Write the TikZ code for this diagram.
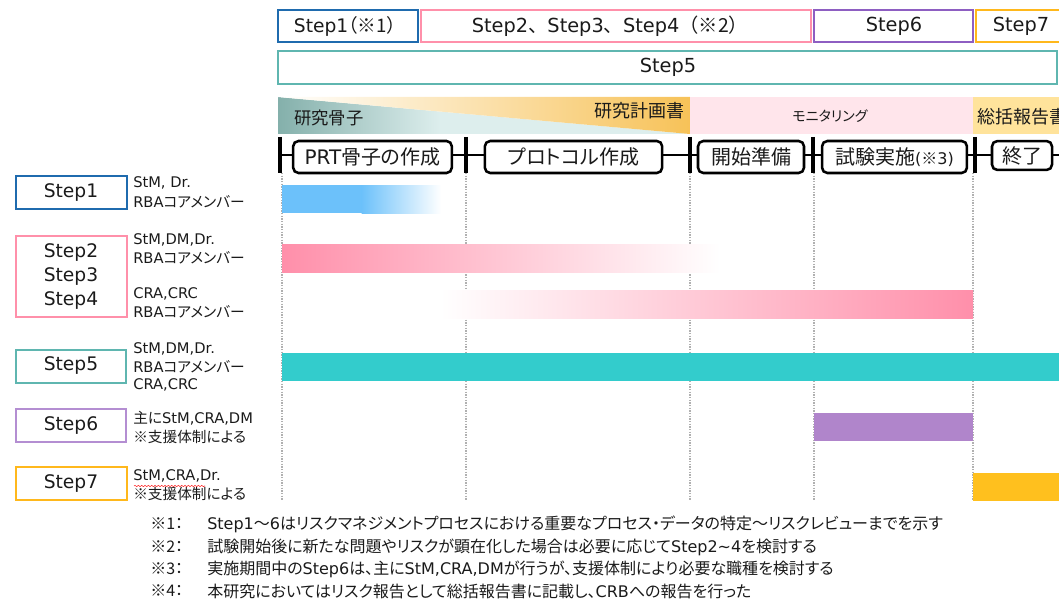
\documentclass[tikz,border=0pt]{standalone}
\usepackage{fontspec}
\setmainfont{DejaVu Sans}
\newfontfamily\jp[RawFeature=+palt]{Noto Sans CJK JP}
\newfontfamily\jpw{Noto Sans CJK JP}
\usetikzlibrary{decorations.pathmorphing}
\definecolor{cOne}{HTML}{1F6BAE}
\definecolor{cTwo}{HTML}{FF90AA}
\definecolor{cFive}{HTML}{5FB6B0}
\definecolor{cSix}{HTML}{8E5EC2}
\definecolor{cSixL}{HTML}{B48ED2}
\definecolor{cSeven}{HTML}{FFB81C}
\definecolor{bTealD}{HTML}{84B0AB}
\definecolor{bTealL}{HTML}{DDEEED}
\definecolor{bOrange}{HTML}{F7C258}
\definecolor{bPink}{HTML}{FFE5EB}
\definecolor{bOrangeL}{HTML}{FFE39B}
\definecolor{barBlue}{HTML}{6CC1FA}
\definecolor{barPink}{HTML}{FF8FAA}
\definecolor{barTeal}{HTML}{33CCCC}
\definecolor{barPurple}{HTML}{B085CB}
\definecolor{barOrange}{HTML}{FFC01E}
\definecolor{txt}{HTML}{1A1A1A}
\definecolor{dotg}{HTML}{B0B0B0}
\begin{document}
\begin{tikzpicture}[x=0.75pt,y=-0.75pt,
  every node/.style={text=txt,inner sep=0pt},
  frame/.style={line width=1.9pt},
  toplabel/.style={font=\fontsize{14.5}{17}\selectfont},
  tlbox/.style={draw=black,fill=white,line width=1.9pt,rounded corners=4pt,minimum height=24pt,font=\fontsize{15}{17}\selectfont},
  tick/.style={line width=2.4pt,black},
  guide/.style={dotg,line width=0.8pt,dash pattern=on 1pt off 1pt},
  steplabel/.style={font=\fontsize{14}{16}\selectfont},
  who/.style={anchor=west,font=\fontsize{11}{13}\selectfont},
  note/.style={anchor=west,font=\fontsize{12}{14}\selectfont}]
\useasboundingbox (0,0) rectangle (1059,599);

% top row
\draw[frame,cOne] (278,10) rectangle (418,42);
\node[toplabel,font=\fontsize{14}{16}\selectfont] (t1) at (345,26) {Step1{\jp （※1）}};
\draw[frame,cTwo] (421,10) rectangle (811,42);
\node[toplabel] (t2) at (610,26) {Step2{\jpw 、}Step3{\jpw 、}Step4{\jpw （※2）}};
\draw[frame,cSix] (814,10) rectangle (973,42);
\node[toplabel] (t6) at (894,26) {Step6};
\draw[frame,cSeven] (976,10) rectangle (1070,42);
\node[toplabel] (t7) at (1021,26) {Step7};
\draw[frame,cFive] (278,51) rectangle (1057,84);
\node[toplabel] (t5) at (668,67) {Step5};

% phase band
\begin{scope}
\clip (278,97) -- (690,134) -- (278,134) -- cycle;
\shade[left color=bTealD,right color=bTealL] (278,97) rectangle (440,134);
\fill[bTealL] (439.5,97) rectangle (690,134);
\end{scope}
\begin{scope}
\clip (278,97) -- (690,97) -- (690,134) -- cycle;
\shade[left color=white,right color=bOrange] (278,97) rectangle (690,134);
\end{scope}
\fill[bPink] (690,97) rectangle (973,134);
\fill[bOrangeL] (973,97) rectangle (1059,134);
\node[anchor=west,font=\jp\fontsize{13}{15}\selectfont] (p1) at (294,118) {研究骨子};
\node[anchor=east,font=\jp\fontsize{13.5}{15}\selectfont] (p2) at (685,111) {研究計画書};
\node[font=\jp\fontsize{10.5}{12}\selectfont] (p3) at (830,116) {モニタリング};
\node[anchor=west,font=\jp\fontsize{13.5}{15}\selectfont] (p4) at (977,117) {総括報告書};

% timeline
\coordinate (l0) at (280,155);
\coordinate (l1) at (1059,155);
\draw[line width=1.9pt] (l0) -- (l1);
\foreach \x in {280,466,690,813,975} {\draw[tick] (\x,137) -- (\x,173);}
\node[tlbox,minimum width=119pt] (s1) at (372.5,157) {PRT{\jp 骨子の作成}};
\node[tlbox,minimum width=133pt] (s2) at (573.5,157) {\jp プロトコル作成};
\node[tlbox,minimum width=79.5pt] (s3) at (751,157) {\jp 開始準備};
\node[tlbox,minimum width=108.7pt] (s4) at (894.5,157) {{\jp 試験実施}{\fontsize{12}{13}\selectfont({\jp ※}3)}};
\node[tlbox,minimum width=45pt,minimum height=21.7pt] (s5) at (1022,155.5) {\jp 終了};

% guides
\foreach \x in {282,466,690,814,973} {\draw[guide] (\x,173) -- (\x,500);}

% left step boxes
\draw[frame,cOne] (16,176) rectangle (127,209);
\node[steplabel] (L1) at (71,193) {Step1};
\draw[frame,cTwo] (16,236) rectangle (127,317);
\node[steplabel] (L2) at (71,253) {Step2};
\node[steplabel] (L3) at (71,277) {Step3};
\node[steplabel] (L4) at (71,301) {Step4};
\draw[frame,cFive] (16,350) rectangle (126,383);
\node[steplabel] (L5) at (71,366) {Step5};
\draw[frame,cSixL] (16,409) rectangle (126,442);
\node[steplabel] (L6) at (71,426) {Step6};
\draw[frame,cSeven] (16,467) rectangle (127,500);
\node[steplabel] (L7) at (71,484) {Step7};

% roles
\node[who] (w1a) at (133,183) {StM, Dr.};
\node[who] (w1b) at (133,202) {RBA{\jp コアメンバー}};
\node[who] (w2a) at (133,240) {StM,DM,Dr.};
\node[who] (w2b) at (133,258) {RBA{\jp コアメンバー}};
\node[who] (w2c) at (133,294) {CRA,CRC};
\node[who] (w2d) at (133,312) {RBA{\jp コアメンバー}};
\node[who] (w5a) at (133,349) {StM,DM,Dr.};
\node[who] (w5b) at (133,367) {RBA{\jp コアメンバー}};
\node[who] (w5c) at (133,385) {CRA,CRC};
\node[who] (w6a) at (133,418) {{\jp 主に}StM,CRA,DM};
\node[who] (w6b) at (133,437) {\jp ※支援体制による};
\node[who] (w7a) at (133,476) {StM,CRA,Dr.};
\node[who] (w7b) at (133,494) {\jp ※支援体制による};
\draw[red!85,line width=0.4pt,decorate,decoration={snake,amplitude=0.5pt,segment length=2.5pt}] (134,486) -- (205,486);

% bars
\fill[barBlue] (282,185) rectangle (362,213);
\shade[left color=barBlue,right color=white] (361.5,185) rectangle (441,213);
\shade[left color=barPink,right color=white] (282,244) rectangle (720,272);
\shade[left color=white,right color=barPink] (440,290) rectangle (973,318);
\fill[barTeal] (282,353) rectangle (1059,381);
\fill[barPurple] (814,413) rectangle (973,441);
\fill[barOrange] (973,473) rectangle (1059,501);

% notes
\node[note] (n1m) at (150,524) {\jp ※1：};
\node[note] (n1) at (207,524) {Step1{\jp ～}6{\jp はリスクマネジメントプロセスにおける重要なプロセス・データの特定～リスクレビューまでを示す}};
\node[note] (n2m) at (150,547) {\jp ※2：};
\node[note] (n2) at (207,547) {{\jp 試験開始後に新たな問題やリスクが顕在化した場合は必要に応じて}Step2{\char"7E}4{\jp を検討する}};
\node[note] (n3m) at (150,569) {\jp ※3：};
\node[note] (n3) at (207,569) {{\jp 実施期間中の}Step6{\jp は、主に}StM,CRA,DM{\jp が行うが、支援体制により必要な職種を検討する}};
\node[note] (n4m) at (150,591) {\jp ※4：};
\node[note] (n4) at (207,591) {{\jp 本研究においてはリスク報告として総括報告書に記載し、}CRB{\jp への報告を行った}};
\end{tikzpicture}
\end{document}
